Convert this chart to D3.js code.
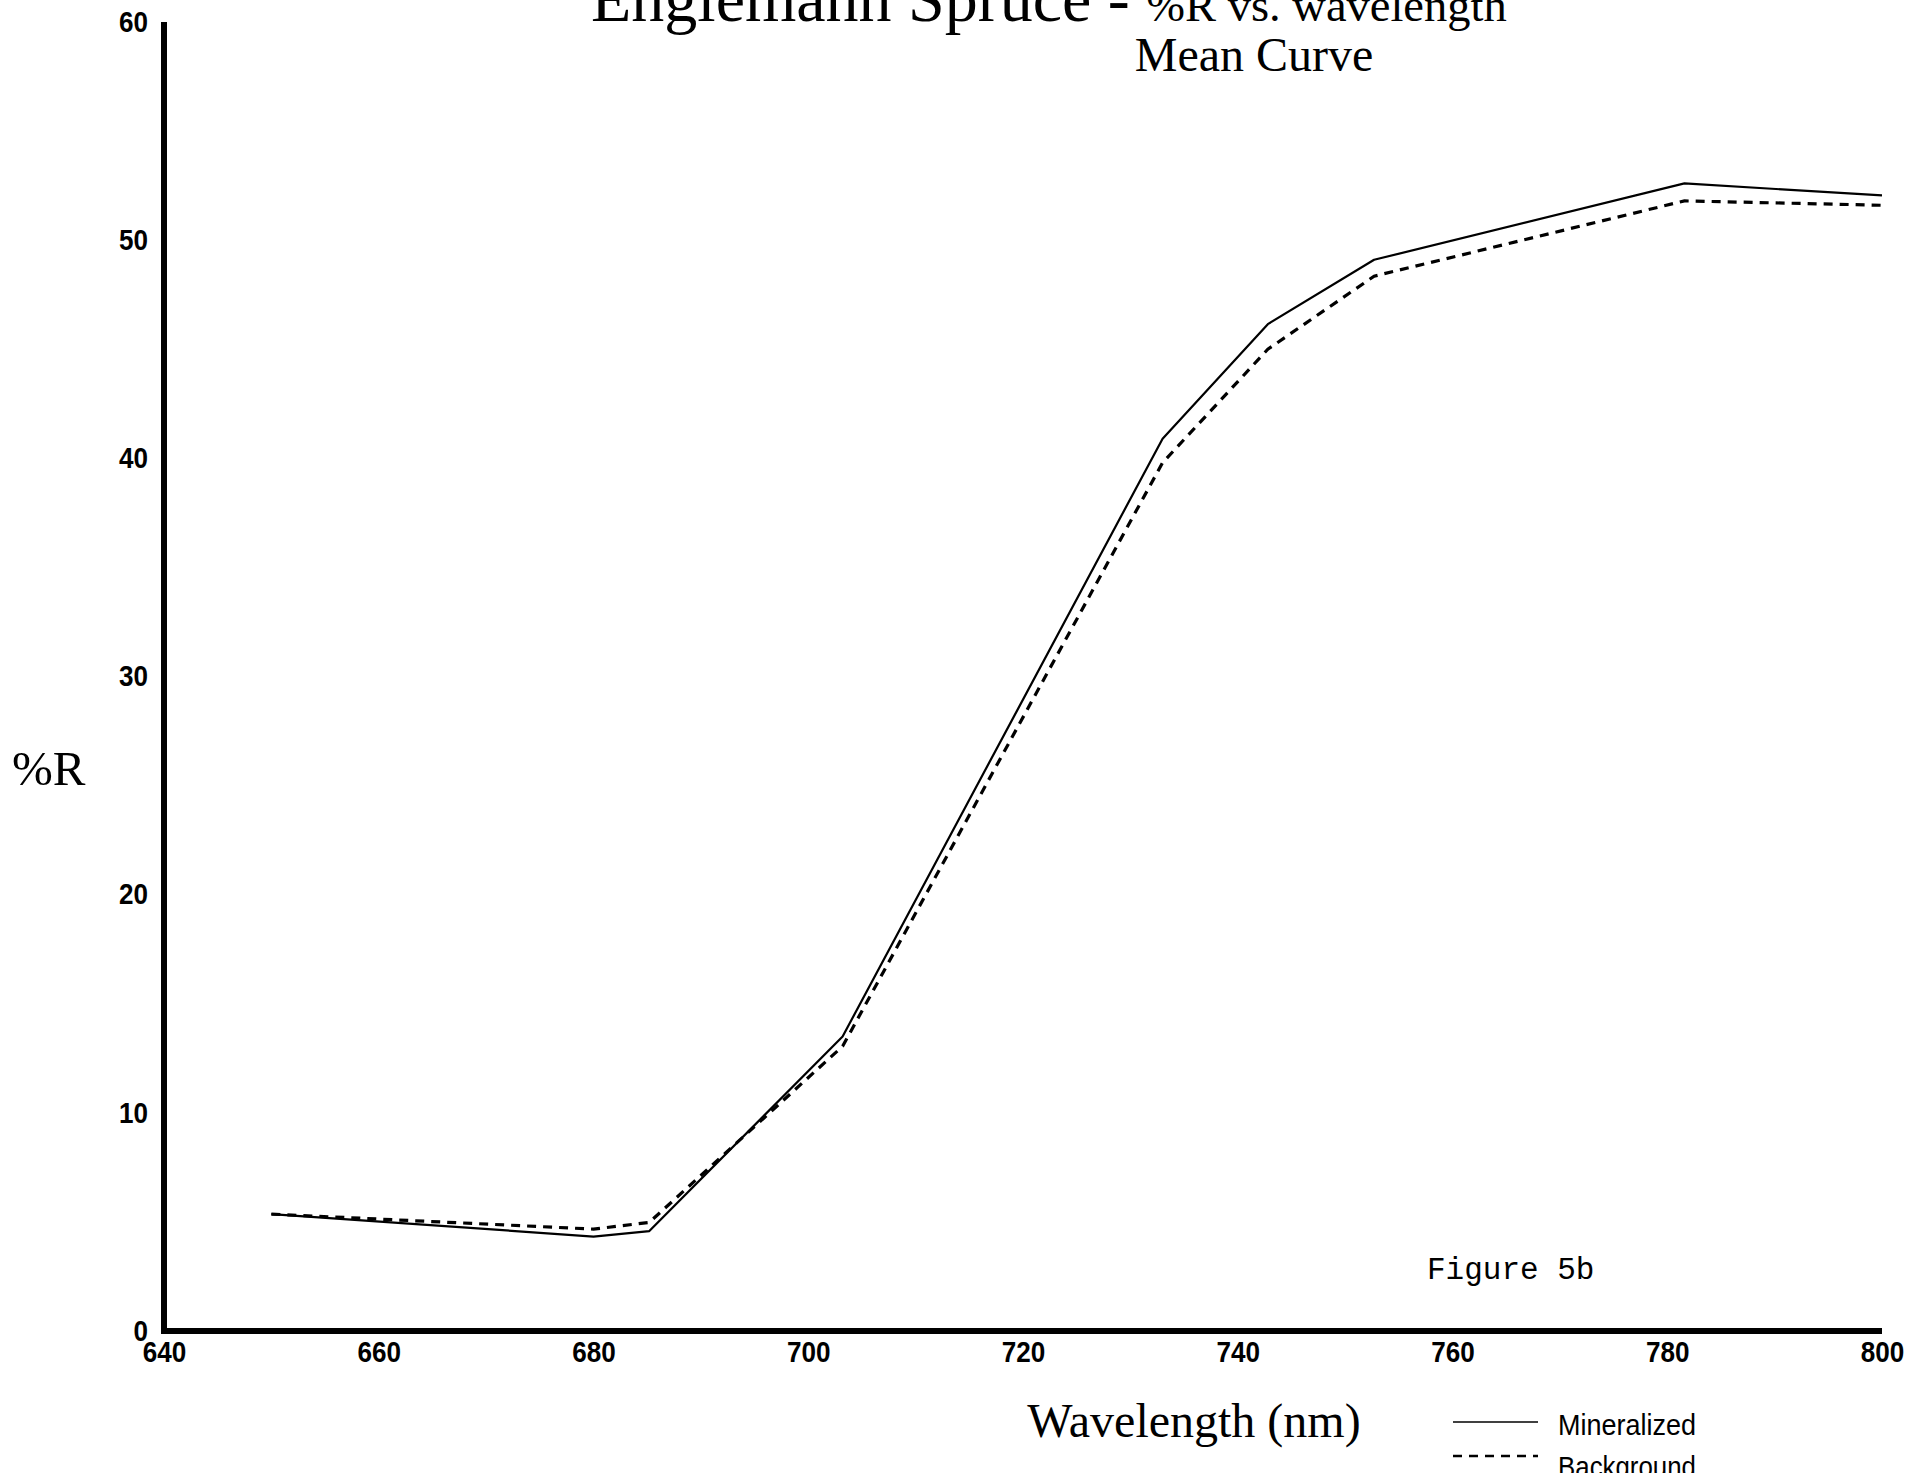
<!DOCTYPE html>
<html>
<head>
<meta charset="utf-8">
<script src="https://cdn.jsdelivr.net/npm/d3@7/dist/d3.min.js"></script>
<style>
  html, body { margin: 0; padding: 0; background: #fff; }
  svg { display: block; }
</style>
</head>
<body>
<script>
// Mean reflectance spectra, Englemann Spruce needles
const wavelengths = [650, 680, 685.2, 703.2, 733, 742.8, 752.7, 781.6, 800];
const mineralized = [5.36, 4.33, 4.58, 13.5, 40.9, 46.15, 49.1, 52.6, 52.05];
const background  = [5.36, 4.67, 4.98, 13.05, 39.8, 45.0, 48.35, 51.8, 51.6];
const xTicks = [640, 660, 680, 700, 720, 740, 760, 780, 800];
const yTicks = [0, 10, 20, 30, 40, 50, 60];

const W = 1910, H = 1473;
const svg = d3.select("body").append("svg").attr("width", W).attr("height", H);

const x = d3.scaleLinear().domain([640, 800]).range([164, 1882]);
const y = d3.scaleLinear().domain([0, 60]).range([1331, 22]);

const sans = "'Liberation Sans', Arial, Helvetica, sans-serif";
const serif = "'Liberation Serif', 'Times New Roman', Times, serif";

// Title (runs off the top edge of the page)
const title = svg.append("text")
  .attr("x", 591).attr("y", 21)
  .attr("font-family", serif).attr("fill", "#000");
title.append("tspan").attr("font-size", 66).text("Englemann Spruce - ");
title.append("tspan").attr("font-size", 46.5).text("%R vs. wavelength");

svg.append("text")
  .attr("x", 1254).attr("y", 71)
  .attr("text-anchor", "middle")
  .attr("font-family", serif).attr("font-size", 48)
  .text("Mean Curve");

// Axes
const xAxis = d3.axisBottom(x).tickValues(xTicks).tickSize(0).tickPadding(10).tickSizeOuter(0);
const yAxis = d3.axisLeft(y).tickValues(yTicks).tickSize(0).tickPadding(16).tickSizeOuter(0);

const gx = svg.append("g").attr("transform", `translate(0,${y(0)})`).call(xAxis);
const gy = svg.append("g").attr("transform", `translate(${x(640)},0)`).call(yAxis);

// Tall, narrow bold numerals
[gx, gy].forEach(g => {
  g.select(".domain").attr("stroke", "#000").attr("stroke-width", 6);
  g.selectAll(".tick text")
    .attr("font-family", sans)
    .attr("font-weight", "bold")
    .attr("font-size", 29)
    .attr("fill", "#000")
    .attr("textLength", function () { return this.textContent.length * 14.5; })
    .attr("lengthAdjust", "spacingAndGlyphs");
});
gx.select(".domain").attr("d", `M${x(640) - 3},0H${x(800)}`);
gy.select(".domain").attr("d", `M0,${y(60)}V${y(0) + 3}`);

// Series lines
const line = d3.line()
  .x((d, i) => x(wavelengths[i]))
  .y(d => y(d));

svg.append("path")
  .datum(mineralized)
  .attr("d", line)
  .attr("fill", "none")
  .attr("stroke", "#000")
  .attr("stroke-width", 2.2)
  .attr("stroke-linejoin", "round");

svg.append("path")
  .datum(background)
  .attr("d", line)
  .attr("fill", "none")
  .attr("stroke", "#000")
  .attr("stroke-width", 3.2)
  .attr("stroke-dasharray", "9,7");

// Axis titles
svg.append("text")
  .attr("x", 12).attr("y", 785)
  .attr("font-family", serif).attr("font-size", 49)
  .text("%R");

svg.append("text")
  .attr("x", 1194).attr("y", 1437)
  .attr("text-anchor", "middle")
  .attr("font-family", serif).attr("font-size", 48)
  .text("Wavelength (nm)");

// Figure tag
svg.append("text")
  .attr("x", 1427).attr("y", 1279)
  .attr("font-family", "'Liberation Mono', 'Courier New', Courier, monospace")
  .attr("font-size", 31)
  .text("Figure 5b");

// Legend (second entry runs off the bottom edge of the page)
const legend = [
  { name: "Mineralized", dash: null, width: 1.5, lineY: 1422, textY: 1435 },
  { name: "Background", dash: "9,7", width: 2.5, lineY: 1456, textY: 1477 }
];
legend.forEach(d => {
  svg.append("line")
    .attr("x1", 1453).attr("x2", 1538)
    .attr("y1", d.lineY).attr("y2", d.lineY)
    .attr("stroke", "#000")
    .attr("stroke-width", d.width)
    .attr("stroke-dasharray", d.dash);
  svg.append("text")
    .attr("x", 1558).attr("y", d.textY)
    .attr("font-family", sans)
    .attr("font-size", 29)
    .attr("textLength", 138)
    .attr("lengthAdjust", "spacingAndGlyphs")
    .text(d.name);
});
</script>
</body>
</html>
